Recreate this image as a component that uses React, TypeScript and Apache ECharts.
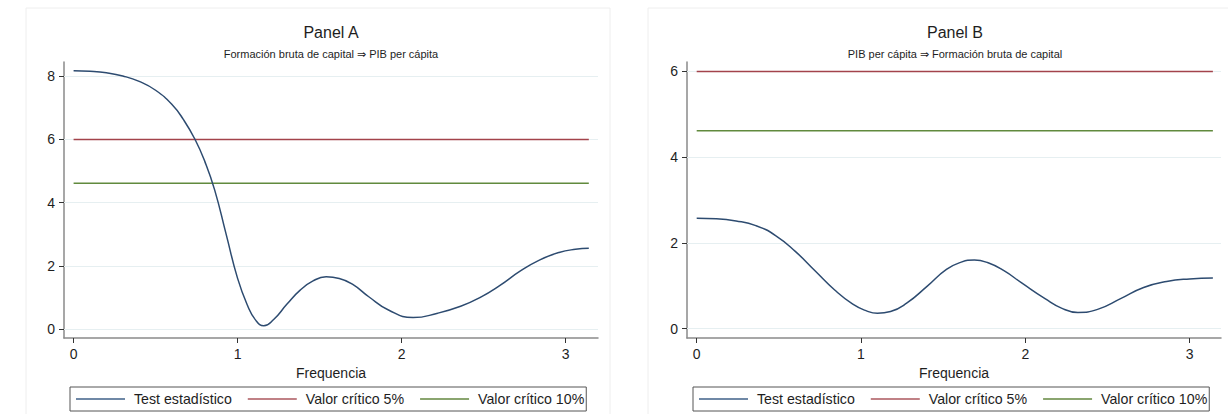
import React, { useEffect, useRef } from "react";
import * as echarts from "echarts";

const PANEL_TITLES = ["Panel A", "Panel B"];
const PANEL_SUBTITLES = [
  "Formación bruta de capital ⇒ PIB per cápita",
  "PIB per cápita ⇒ Formación bruta de capital",
];
const SERIES_NAMES = ["Test estadístico", "Valor crítico 5%", "Valor crítico 10%"];
const X_TICKS = [0, 1, 2, 3];
const Y_TICKS_A = [0, 2, 4, 6, 8];
const Y_TICKS_B = [0, 2, 4, 6];
const X_NAME = "Frequencia";

const A_FREQ = [0, 0.1, 0.2, 0.3, 0.4, 0.5, 0.6, 0.67, 0.74, 0.8, 0.86, 0.93, 1.0, 1.06, 1.11, 1.16, 1.22, 1.3, 1.38, 1.46, 1.54, 1.62, 1.7, 1.8, 1.92, 2.07, 2.22, 2.36, 2.48, 2.6, 2.72, 2.84, 2.96, 3.06, 3.1416];
const A_STAT = [8.17, 8.15, 8.1, 8.0, 7.83, 7.55, 7.1, 6.62, 6.0, 5.3, 4.4, 3.0, 1.6, 0.75, 0.28, 0.1, 0.3, 0.78, 1.22, 1.52, 1.65, 1.6, 1.42, 1.02, 0.6, 0.36, 0.5, 0.72, 1.0, 1.38, 1.82, 2.18, 2.42, 2.52, 2.55];
const B_FREQ = [0, 0.12, 0.24, 0.36, 0.48, 0.6, 0.72, 0.84, 0.95, 1.03, 1.1, 1.18, 1.28, 1.4, 1.52, 1.61, 1.69, 1.77, 1.87, 1.98, 2.12, 2.22, 2.32, 2.44, 2.58, 2.72, 2.86, 3.0, 3.1416];
const B_STAT = [2.57, 2.56, 2.51, 2.4, 2.17, 1.8, 1.35, 0.9, 0.57, 0.42, 0.36, 0.4, 0.6, 0.98, 1.38, 1.55, 1.6, 1.54, 1.35, 1.06, 0.7, 0.48, 0.38, 0.45, 0.7, 0.96, 1.1, 1.16, 1.18];
const CRIT_FREQ = [0, 3.1416];
const CRIT_5 = 5.99;
const CRIT_10 = 4.61;

const COLORS = ["#2d4b70", "#a3434b", "#618a3d"];
const LEGEND_COLORS = ["#6f88a6", "#c08186", "#8aa56f"];
const FONT = "Liberation Sans, Arial, sans-serif";
const TEXT = "#1e1e1e";

export default function App() {
  const ref = useRef<HTMLDivElement>(null);
  useEffect(() => {
    if (!ref.current) return;
    const chart = echarts.init(ref.current, null, { renderer: "svg" });

    const grids = [
      { left: 64, top: 62, width: 534, height: 276 },
      { left: 687, top: 62, width: 534, height: 276 },
    ];
    const xRanges = [
      [-0.0585, 3.1976],
      [-0.059, 3.191],
    ];
    const yRanges = [
      [-0.2846, 8.443],
      [-0.2165, 6.21],
    ];
    const yTicks = [Y_TICKS_A, Y_TICKS_B];
    const stats = [
      A_FREQ.map((f, i) => [f, A_STAT[i]]),
      B_FREQ.map((f, i) => [f, B_STAT[i]]),
    ];

    const xAxis = grids.map((_, i) => ({
      type: "value",
      gridIndex: i,
      min: xRanges[i][0],
      max: xRanges[i][1],
      axisLine: { show: true, onZero: false, lineStyle: { color: "#8a8a8a", width: 1.5 } },
      axisTick: { show: true, customValues: X_TICKS, length: 5, lineStyle: { color: "#333", width: 1 } },
      axisLabel: { customValues: X_TICKS, fontSize: 14, color: TEXT, fontFamily: FONT, margin: 9 },
      splitLine: { show: false },
      name: X_NAME,
      nameLocation: "middle",
      nameGap: 24,
      nameTextStyle: { fontSize: 14, color: TEXT, fontFamily: FONT },
    }));
    const yAxis = grids.map((_, i) => ({
      type: "value",
      gridIndex: i,
      min: yRanges[i][0],
      max: yRanges[i][1],
      axisLine: { show: true, onZero: false, lineStyle: { color: "#8a8a8a", width: 1.5 } },
      axisTick: { show: true, customValues: yTicks[i], length: 5, lineStyle: { color: "#333", width: 1 } },
      axisLabel: { customValues: yTicks[i], fontSize: 14, color: TEXT, fontFamily: FONT, margin: 9 },
      splitLine: { show: false },
    }));

    const series: any[] = [];
    grids.forEach((_, i) => {
      series.push({
        type: "line",
        name: SERIES_NAMES[0],
        xAxisIndex: i,
        yAxisIndex: i,
        data: stats[i],
        smooth: 0.5,
        showSymbol: false,
        symbol: "none",
        lineStyle: { color: COLORS[0], width: 1.5 },
        itemStyle: { color: COLORS[0] },
        z: 5,
        markLine: {
          silent: true,
          symbol: "none",
          label: { show: false },
          lineStyle: { color: "#e6eff1", width: 1, type: "solid" },
          data: yTicks[i].map((v) => ({ yAxis: v })),
          z: 1,
        },
      });
      [CRIT_5, CRIT_10].forEach((c, k) => {
        series.push({
          type: "line",
          name: SERIES_NAMES[k + 1],
          xAxisIndex: i,
          yAxisIndex: i,
          data: CRIT_FREQ.map((f) => [f, c]),
          showSymbol: false,
          symbol: "none",
          lineStyle: { color: COLORS[k + 1], width: 1.5 },
          itemStyle: { color: COLORS[k + 1] },
          z: 4,
        });
      });
    });

    const legendData = SERIES_NAMES.map((n, k) => ({
      name: n,
      icon: "rect",
      itemStyle: { color: LEGEND_COLORS[k] },
    }));
    const legendLeft = [70, 693];

    chart.setOption({
      animation: false,
      backgroundColor: "#ffffff",
      textStyle: { fontFamily: FONT },
      title: [
        ...PANEL_TITLES.map((t, i) => ({
          text: t,
          left: i === 0 ? 331 : 955,
          top: 24,
          textAlign: "center",
          padding: 0,
          textStyle: { fontSize: 16, fontWeight: "normal", color: TEXT, fontFamily: FONT },
        })),
        ...PANEL_SUBTITLES.map((t, i) => ({
          text: t,
          left: i === 0 ? 331 : 955,
          top: 48,
          textAlign: "center",
          padding: 0,
          textStyle: { fontSize: 11, fontWeight: "normal", color: TEXT, fontFamily: FONT },
        })),
      ],
      grid: grids,
      xAxis,
      yAxis,
      legend: legendLeft.map((l) => ({
        data: legendData,
        left: l,
        top: 387,
        orient: "horizontal",
        selectedMode: false,
        icon: "rect",
        itemWidth: 49,
        itemHeight: 2,
        itemGap: 16,
        padding: [5, 2, 5, 6],
        borderColor: "#555",
        borderWidth: 1,
        textStyle: { fontSize: 14.2, color: TEXT, fontFamily: FONT, padding: [0, 0, 0, 4] },
      })),
      graphic: [
        { type: "rect", shape: { x: 26, y: 8, width: 584, height: 420 }, style: { fill: "none", stroke: "#eeeeee", lineWidth: 1 }, silent: true, z: -1 },
        { type: "rect", shape: { x: 648, y: 8, width: 600, height: 420 }, style: { fill: "none", stroke: "#eeeeee", lineWidth: 1 }, silent: true, z: -1 },
      ],
      series,
    });
    return () => chart.dispose();
  }, []);
  return <div ref={ref} style={{ position: "fixed", left: 0, top: 0, width: 1228, height: 414 }} />;
}
